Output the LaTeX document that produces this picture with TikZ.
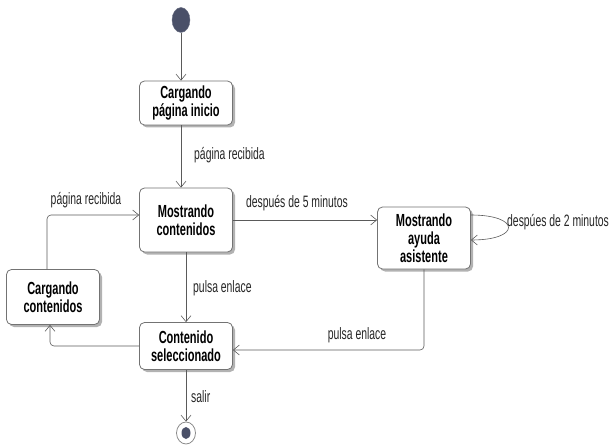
\documentclass[tikz,border=0pt]{standalone}
\usepackage{fontspec}
\setmainfont{Liberation Sans}[FakeStretch=0.63]
\usepackage{xcolor}
\usetikzlibrary{arrows.meta, positioning, shapes.geometric, shadows, calc}
\definecolor{slate}{HTML}{4A5068}
\definecolor{edgegray}{HTML}{5A5A5A}

\begin{document}
\begin{tikzpicture}[
    x=1pt, y=-1pt,
    state/.style={rectangle, draw=black!55, fill=white, thick, minimum width=93pt, rounded corners=5pt, align=center, font=\fontsize{17.5}{18}\selectfont\bfseries, drop shadow={shadow xshift=2.5pt, shadow yshift=-2.5pt, fill=black!30, opacity=1}},
    trans/.style={-{Straight Barb[length=6pt, width=10pt]}, draw=edgegray, semithick, rounded corners=4pt},
    lbl/.style={font=\fontsize{16.5}{17}\selectfont, text=black!85, inner sep=1pt}
]
    \useasboundingbox (0,0) rectangle (612,446);

    % Pseudo states
    \node[ellipse, fill=slate, draw=slate!80, minimum width=18pt, minimum height=25pt, inner sep=0pt] (start) at (181,20) {};
    \node[ellipse, draw=black!45, thick, fill=white, minimum width=19pt, minimum height=22pt, inner sep=0pt] (stop) at (186,433) {};
    \node[ellipse, fill=slate, minimum width=9pt, minimum height=12pt, inner sep=0pt] (stopdot) at (stop) {};

    % States
    \node[state, minimum height=44pt] (cargaIni) at (186,103) {Cargando\\página inicio};
    \node[state, minimum height=64pt] (mostrCont) at (186,220) {Mostrando\\contenidos};
    \node[state, minimum height=62pt] (ayuda) at (424,238) {Mostrando\\ayuda\\asistente};
    \node[state, minimum height=55pt] (cargaCont) at (53,297) {Cargando\\contenidos};
    \node[state, minimum height=47pt] (selec) at (186,346) {Contenido\\seleccionado};

    % Transitions
    \draw[trans] (start) -- (start |- cargaIni.north);
    \draw[trans] (cargaIni.south -| start) -- (mostrCont.north -| start);
    \draw[trans] (mostrCont.east) -- (mostrCont.east -| ayuda.west);
    \draw[trans] ([yshift=23pt]ayuda.east) .. controls +(50,0) and +(50,0) .. ([yshift=-2pt]ayuda.east);
    \draw[trans] (ayuda.south) |- ([yshift=-4pt]selec.east);
    \draw[trans] (mostrCont) -- (selec);
    \draw[trans] (selec.west) -| ([xshift=-3pt]cargaCont.south);
    \draw[trans] ([xshift=-6pt]cargaCont.north) |- ([yshift=5pt]mostrCont.west);
    \draw[trans] (selec) -- (stop);

    % Labels
    \node[lbl, anchor=west] (lblRecib1) at (193,155) {página recibida};
    \node[lbl] (lblRecib2) at (86,200) {página recibida};
    \node[lbl] (lbl5min) at (297,203) {después de 5 minutos};
    \node[lbl, anchor=west, inner sep=0pt] (lbl2min) at (507,222) {despúes de 2 minutos};
    \node[lbl, anchor=west] (lblPulsa1) at (192,288) {pulsa enlace};
    \node[lbl] (lblPulsa2) at (357,335) {pulsa enlace};
    \node[lbl, anchor=west] (lblSalir) at (190,397) {salir};
\end{tikzpicture}
\end{document}
